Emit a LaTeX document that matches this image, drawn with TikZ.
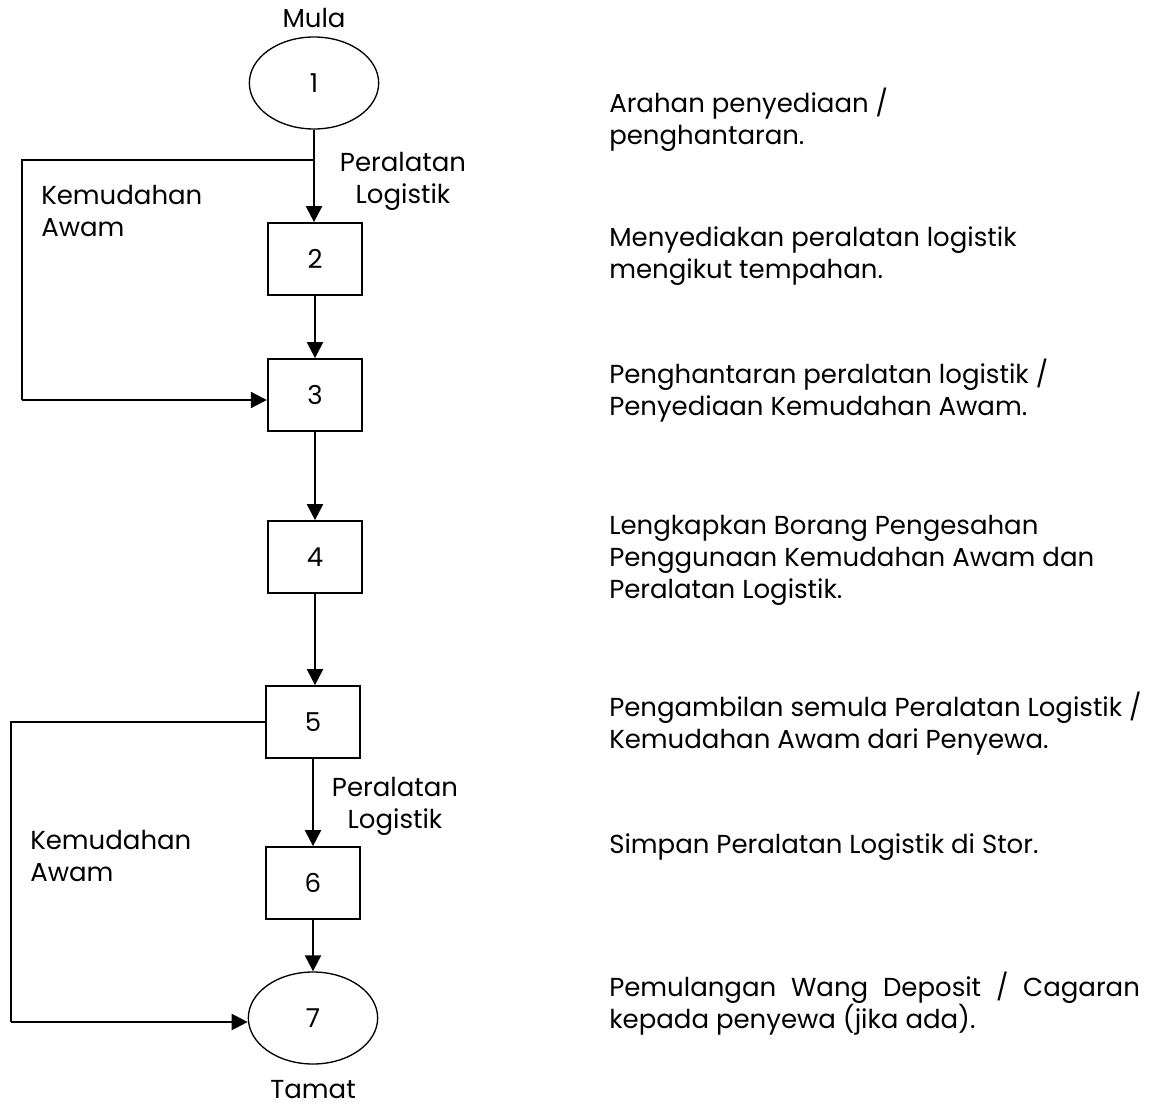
\documentclass[tikz,border=0pt]{standalone}
\usepackage{fontspec}
\setmainfont{Poppins}
\usetikzlibrary{arrows.meta, shapes.geometric, positioning}
\tikzset{
  stepbox/.style={rectangle,draw=black,line width=1.3pt,minimum width=71pt,minimum height=54pt,inner sep=0pt},
  endnode/.style={ellipse,draw=black,line width=1pt,minimum width=97pt,minimum height=69pt,inner sep=0pt},
  desc/.style={anchor=west,align=left,inner sep=0pt},
  lbl/.style={align=center,inner sep=0pt},
  arr/.style={-{Triangle[length=12pt,width=12pt]},line width=1.6pt},
  line/.style={line width=1.6pt}
}

\begin{document}
\begin{tikzpicture}[x=0.75pt,y=-0.75pt,font=\fontsize{19.5}{24}\selectfont]
  \useasboundingbox (0,0) rectangle (1153,1106);

  % flow
  \node[endnode] (one)   at (314,83)  {1};
  \node[stepbox] (two)   at (315,259) {2};
  \node[stepbox] (three) at (315,395) {3};
  \node[stepbox] (four)  at (315,557) {4};
  \node[stepbox] (five)  at (313,722) {5};
  \node[stepbox] (six)   at (313,883) {6};
  \node[endnode] (seven) at (313,1018) {7};

  \node[lbl] (mula)  at (314,18)   {Mula};
  \node[lbl] (tamat) at (313,1090) {Tamat};

  \node[lbl] (pl1) at (403,181) {Peralatan\\Logistik};
  \node[lbl] (pl2) at (395,806) {Peralatan\\Logistik};
  \node[desc] (ka1) at (41,211) {Kemudahan\\Awam};
  \node[desc] (ka2) at (30,856) {Kemudahan\\Awam};

  \coordinate (j1) at (314,160);
  \coordinate (k1) at (22,400);
  \coordinate (k2) at (11,1022);

  \foreach \s/\t in {one/two,two/three,three/four,four/five,five/six,six/seven}
    \draw[arr] (\s.south) -- (\s.south |- \t.north);
  \draw[line] (j1) -| (k1);
  \draw[arr] (k1) -- (k1 -| three.west);
  \draw[line] (five.west) -| (k2);
  \draw[arr] (k2) -- (k2 -| seven.west);

  % keterangan
  \node[desc] (d1) at (609,120)  {Arahan penyediaan /\\penghantaran.};
  \node[desc] (d2) at (609,256)  {Menyediakan peralatan logistik\\mengikut tempahan.};
  \node[desc] (d3) at (609,391)  {Penghantaran peralatan logistik /\\Penyediaan Kemudahan Awam.};
  \node[desc] (d4) at (609,560)  {Lengkapkan Borang Pengesahan\\Penggunaan Kemudahan Awam dan\\Peralatan Logistik.};
  \node[desc] (d5) at (609,724)  {Pengambilan semula Peralatan Logistik /\\Kemudahan Awam dari Penyewa.};
  \node[desc] (d6) at (609,847)  {Simpan Peralatan Logistik di Stor.};
  \node[desc] (d7) at (609,1004) {\makebox[398pt][s]{Pemulangan Wang Deposit / Cagaran}\\kepada penyewa (jika ada).};
\end{tikzpicture}
\end{document}
